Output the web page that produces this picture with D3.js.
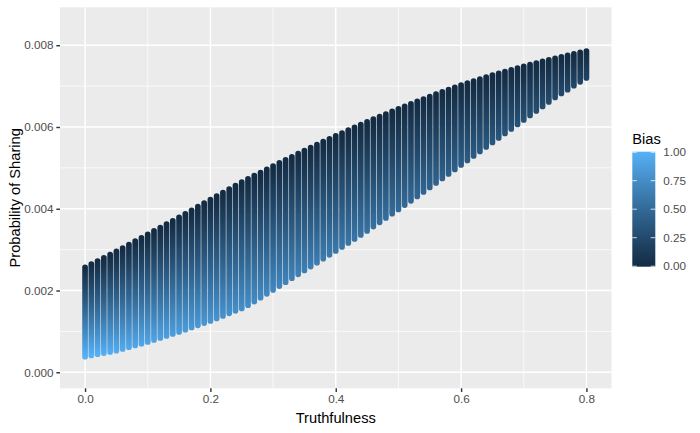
<!DOCTYPE html>
<html>
<head>
<meta charset="utf-8">
<script src="https://cdn.jsdelivr.net/npm/d3@7"></script>
<style>
  body { margin: 0; background: #fff; }
  svg { display: block; font-family: "Liberation Sans", Arial, Helvetica, sans-serif; }
</style>
</head>
<body>
<div id="svg-container"></div>
<script>
// truthfulness (x), one column of points each
const truthfulness = [
  0, 0.01, 0.02, 0.03, 0.04, 0.05, 0.06, 0.07, 0.08, 0.09,
  0.1, 0.11, 0.12, 0.13, 0.14, 0.15, 0.16, 0.17, 0.18, 0.19,
  0.2, 0.21, 0.22, 0.23, 0.24, 0.25, 0.26, 0.27, 0.28, 0.29,
  0.3, 0.31, 0.32, 0.33, 0.34, 0.35, 0.36, 0.37, 0.38, 0.39,
  0.4, 0.41, 0.42, 0.43, 0.44, 0.45, 0.46, 0.47, 0.48, 0.49,
  0.5, 0.51, 0.52, 0.53, 0.54, 0.55, 0.56, 0.57, 0.58, 0.59,
  0.6, 0.61, 0.62, 0.63, 0.64, 0.65, 0.66, 0.67, 0.68, 0.69,
  0.7, 0.71, 0.72, 0.73, 0.74, 0.75, 0.76, 0.77, 0.78, 0.79,
  0.8
]
// largest bias present in each column (colour at the bottom of the column)
const maxBias = [
  1, 0.99, 0.98, 0.97, 0.96, 0.95, 0.94, 0.93, 0.92, 0.91,
  0.9, 0.89, 0.88, 0.87, 0.86, 0.85, 0.84, 0.83, 0.82, 0.81,
  0.8, 0.79, 0.78, 0.77, 0.76, 0.75, 0.74, 0.73, 0.72, 0.71,
  0.7, 0.69, 0.68, 0.67, 0.66, 0.65, 0.64, 0.63, 0.62, 0.61,
  0.6, 0.59, 0.58, 0.57, 0.56, 0.55, 0.54, 0.53, 0.52, 0.51,
  0.5, 0.49, 0.48, 0.47, 0.46, 0.45, 0.44, 0.43, 0.42, 0.41,
  0.4, 0.39, 0.38, 0.37, 0.36, 0.35, 0.34, 0.33, 0.32, 0.31,
  0.3, 0.29, 0.28, 0.27, 0.26, 0.25, 0.24, 0.23, 0.22, 0.21,
  0.2
]
// probability of sharing when bias = 0 (top of every column)
const shareAtBias0 = [
  0.002565, 0.002644, 0.002722, 0.002800, 0.002879, 0.002957, 0.003040, 0.003124, 0.003207, 0.003290,
  0.003373, 0.003457, 0.003540, 0.003623, 0.003706, 0.003789, 0.003876, 0.003963, 0.004050, 0.004137,
  0.004224, 0.004310, 0.004395, 0.004481, 0.004567, 0.004652, 0.004731, 0.004809, 0.004887, 0.004966,
  0.005044, 0.005120, 0.005196, 0.005272, 0.005348, 0.005424, 0.005496, 0.005568, 0.005640, 0.005712,
  0.005785, 0.005853, 0.005922, 0.005990, 0.006059, 0.006127, 0.006191, 0.006255, 0.006318, 0.006382,
  0.006446, 0.006506, 0.006565, 0.006625, 0.006685, 0.006745, 0.006802, 0.006858, 0.006914, 0.006971,
  0.007027, 0.007076, 0.007125, 0.007174, 0.007223, 0.007272, 0.007315, 0.007357, 0.007400, 0.007443,
  0.007486, 0.007525, 0.007564, 0.007603, 0.007643, 0.007682, 0.007717, 0.007753, 0.007788, 0.007824,
  0.007859
]
// probability of sharing at the largest bias (bottom of every column)
const shareAtMaxBias = [
  0.000382, 0.000411, 0.000441, 0.000470, 0.000499, 0.000529, 0.000572, 0.000614, 0.000657, 0.000700,
  0.000743, 0.000792, 0.000841, 0.000890, 0.000939, 0.000988, 0.001042, 0.001095, 0.001149, 0.001203,
  0.001257, 0.001318, 0.001379, 0.001441, 0.001502, 0.001563, 0.001641, 0.001730, 0.001823, 0.001918,
  0.002013, 0.002109, 0.002204, 0.002300, 0.002395, 0.002491, 0.002586, 0.002682, 0.002777, 0.002873,
  0.002968, 0.003066, 0.003164, 0.003262, 0.003360, 0.003458, 0.003563, 0.003668, 0.003774, 0.003879,
  0.003984, 0.004089, 0.004195, 0.004300, 0.004410, 0.004520, 0.004630, 0.004741, 0.004851, 0.004961,
  0.005071, 0.005181, 0.005291, 0.005401, 0.005512, 0.005622, 0.005732, 0.005842, 0.005952, 0.006062,
  0.006173, 0.006283, 0.006393, 0.006503, 0.006613, 0.006723, 0.006819, 0.006914, 0.007010, 0.007105,
  0.007201
]
const xTicks = [0, 0.2, 0.4, 0.6, 0.8]
const xMinor = [0.1, 0.3, 0.5, 0.7]
const yTicks = [0, 0.002, 0.004, 0.006, 0.008]
const yMinor = [0.001, 0.003, 0.005, 0.007]
const biasTicks = [0, 0.25, 0.5, 0.75, 1]
const xLimits = [-0.04, 0.84]
const yLimits = [-0.000392, 0.008928]

const width = 700
const height = 433
const svg = d3.select('#svg-container').append('svg')
    .attr('width', width).attr('height', height)

// panel box
const panel = { left: 60, right: 611.5, top: 7.3, bottom: 388.3 }

const xScale = d3.scaleLinear().domain(xLimits).range([panel.left, panel.right])
const yScale = d3.scaleLinear().domain(yLimits).range([panel.bottom, panel.top])
// ggplot default continuous colour scale
const colour = d3.scaleLinear().domain([0, 1])
    .range(['#132B43', '#56B1F7']).interpolate(d3.interpolateLab)

svg.append('rect')
    .attr('x', panel.left).attr('y', panel.top)
    .attr('width', panel.right - panel.left).attr('height', panel.bottom - panel.top)
    .attr('fill', '#EBEBEB')

// grid lines
const grid = svg.append('g').attr('stroke', '#fff')
grid.selectAll('.vmin').data(xMinor).enter().append('line')
    .attr('x1', d => xScale(d)).attr('x2', d => xScale(d))
    .attr('y1', panel.top).attr('y2', panel.bottom).attr('stroke-width', 0.71)
grid.selectAll('.hmin').data(yMinor).enter().append('line')
    .attr('y1', d => yScale(d)).attr('y2', d => yScale(d))
    .attr('x1', panel.left).attr('x2', panel.right).attr('stroke-width', 0.71)
grid.selectAll('.vmaj').data(xTicks).enter().append('line')
    .attr('x1', d => xScale(d)).attr('x2', d => xScale(d))
    .attr('y1', panel.top).attr('y2', panel.bottom).attr('stroke-width', 1.42)
grid.selectAll('.hmaj').data(yTicks).enter().append('line')
    .attr('y1', d => yScale(d)).attr('y2', d => yScale(d))
    .attr('x1', panel.left).attr('x2', panel.right).attr('stroke-width', 1.42)

// one column per truthfulness value, bias runs from 0 (top) to maxBias (bottom)
const data = truthfulness.map((t, i) => ({
    t: t, top: shareAtBias0[i], bottom: shareAtMaxBias[i], maxBias: maxBias[i]
}))
const gradStops = colour.ticks(10)
const defs = svg.append('defs')
const grads = defs.selectAll('.colgrad').data(data).enter().append('linearGradient')
    .attr('class', 'colgrad')
    .attr('id', (d, i) => 'col' + i)
    .attr('gradientUnits', 'userSpaceOnUse')
    .attr('x1', d => xScale(d.t)).attr('x2', d => xScale(d.t))
    .attr('y1', d => yScale(d.top)).attr('y2', d => yScale(d.bottom))
grads.selectAll('stop').data(d => gradStops.map(o => ({ o: o, b: o * d.maxBias })))
    .enter().append('stop')
    .attr('offset', s => s.o).attr('stop-color', s => colour(s.b))

svg.append('g').selectAll('line').data(data).enter().append('line')
    .attr('x1', d => xScale(d.t)).attr('x2', d => xScale(d.t))
    .attr('y1', d => yScale(d.top)).attr('y2', d => yScale(d.bottom))
    .attr('stroke', (d, i) => `url(#col${i})`)
    .attr('stroke-width', 5.7)
    .attr('stroke-linecap', 'round')

// axes
svg.append('g')
    .attr('transform', `translate(0, ${panel.bottom})`)
    .call(d3.axisBottom(xScale).tickValues(xTicks).tickFormat(d3.format('.1f'))
        .tickSize(3.67).tickPadding(2.9))
svg.append('g')
    .attr('transform', `translate(${panel.left}, 0)`)
    .call(d3.axisLeft(yScale).tickValues(yTicks).tickFormat(d3.format('.3f'))
        .tickSize(3.67).tickPadding(2.9))
svg.selectAll('.domain').remove()
svg.selectAll('.tick line').attr('stroke', '#333').attr('stroke-width', 1.42)
svg.selectAll('.tick text')
    .attr('fill', '#4D4D4D').attr('font-size', '11.7px')
    .attr('font-family', '"Liberation Sans", Arial, sans-serif')

svg.append('text')
    .attr('x', (panel.left + panel.right) / 2).attr('y', 423)
    .attr('text-anchor', 'middle').attr('font-size', '14.67px')
    .text('Truthfulness')
svg.append('text')
    .attr('transform', `translate(20, ${(panel.top + panel.bottom) / 2}) rotate(-90)`)
    .attr('text-anchor', 'middle').attr('font-size', '14.67px')
    .text('Probability of Sharing')

// legend (colour bar)
const bar = { x: 632.3, w: 23, top: 151.7, bottom: 266.7 }
const legendY = d3.scaleLinear().domain([0, 1]).range([bar.bottom - 0.5, bar.top + 0.5])
const legGrad = defs.append('linearGradient').attr('id', 'legGrad')
    .attr('x1', 0).attr('x2', 0).attr('y1', 1).attr('y2', 0)
legGrad.selectAll('stop').data(colour.ticks(20)).enter().append('stop')
    .attr('offset', b => b).attr('stop-color', b => colour(b))

const legend = svg.append('g')
legend.append('text')
    .attr('x', bar.x).attr('y', 143.5).attr('font-size', '14.67px').text('Bias')
legend.append('rect')
    .attr('x', bar.x).attr('y', bar.top)
    .attr('width', bar.w).attr('height', bar.bottom - bar.top)
    .attr('fill', 'url(#legGrad)')
legend.selectAll('.tl').data(biasTicks).enter().append('line')
    .attr('x1', bar.x).attr('x2', bar.x + 4.6)
    .attr('y1', d => legendY(d)).attr('y2', d => legendY(d))
    .attr('stroke', '#fff').attr('stroke-opacity', 0.8)
legend.selectAll('.tr').data(biasTicks).enter().append('line')
    .attr('x1', bar.x + bar.w - 4.6).attr('x2', bar.x + bar.w)
    .attr('y1', d => legendY(d)).attr('y2', d => legendY(d))
    .attr('stroke', '#fff').attr('stroke-opacity', 0.8)
legend.selectAll('.lab').data(biasTicks).enter().append('text')
    .attr('x', 663.3).attr('y', d => legendY(d)).attr('dy', '0.35em')
    .attr('font-size', '11.7px').attr('fill', '#4D4D4D')
    .text(d => d3.format('.2f')(d))
</script>
</body>
</html>
